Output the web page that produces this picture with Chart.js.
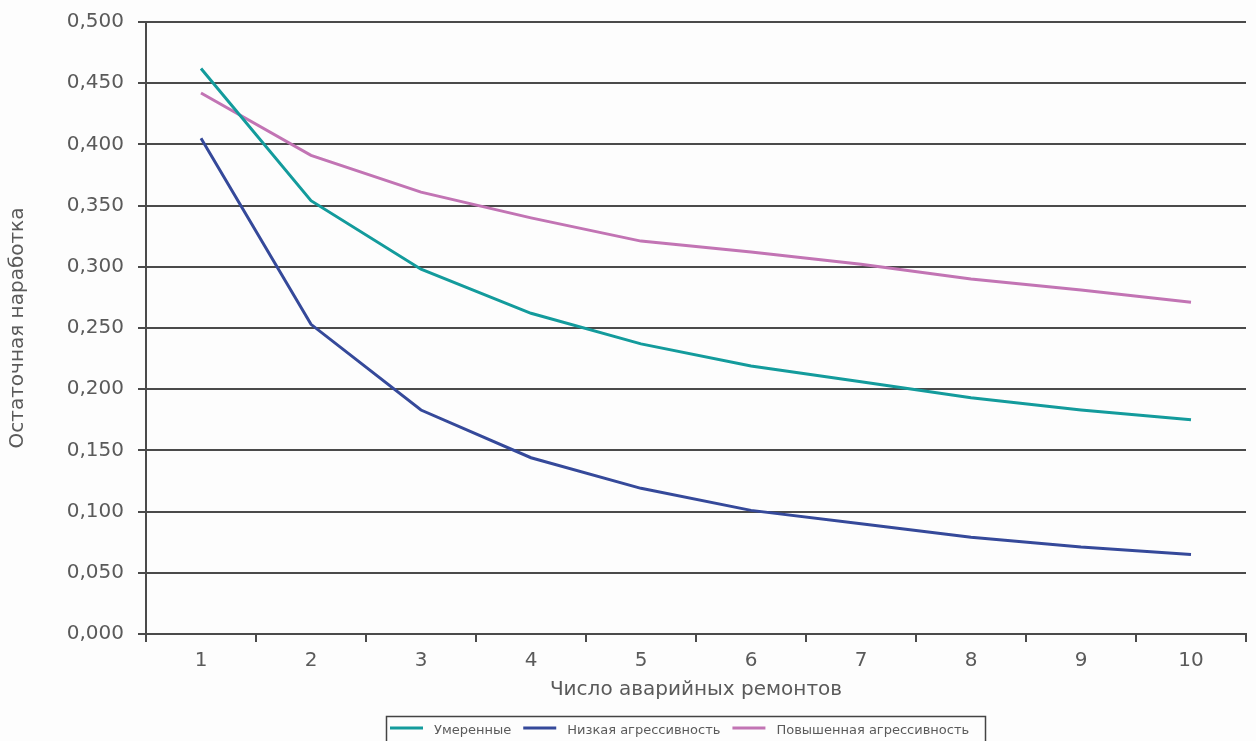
<!DOCTYPE html>
<html lang="ru">
<head>
<meta charset="utf-8">
<title>Остаточная наработка</title>
<script src="https://cdn.jsdelivr.net/npm/chart.js@4/dist/chart.umd.min.js"></script>
<style>
  html, body { margin: 0; padding: 0; background: #fdfdfd; }
  #wrap { width: 1256px; height: 741px; position: relative; }
</style>
</head>
<body>
<div id="wrap"><canvas id="chart" width="1256" height="741"></canvas></div>
<script>
// Number of emergency repairs
const categories = ['1', '2', '3', '4', '5', '6', '7', '8', '9', '10'];

// Residual operating time per aggressiveness level
const moderate = [0.462, 0.354, 0.298, 0.262, 0.237, 0.219, 0.206, 0.193, 0.183, 0.175];
const lowAggr = [0.405, 0.253, 0.183, 0.144, 0.119, 0.101, 0.090, 0.079, 0.071, 0.065];
const highAggr = [0.442, 0.391, 0.361, 0.340, 0.321, 0.312, 0.302, 0.290, 0.281, 0.271];

const seriesNames = ['Умеренные', 'Низкая агрессивность', 'Повышенная агрессивность'];
const yTicks = [0, 0.05, 0.1, 0.15, 0.2, 0.25, 0.3, 0.35, 0.4, 0.45, 0.5];

const FONT = '"DejaVu Sans", sans-serif';
const TEXT = '#5a5a5a';
const GRID = '#4a4a4a';

// Framed legend strip drawn under the x-axis title
const boxedLegend = {
  id: 'boxedLegend',
  afterDraw(chart) {
    const ctx = chart.ctx;
    const left = 386, top = 716, right = 985;
    const sample = 33, gapText = 11, gapItem = 12;
    ctx.save();
    ctx.strokeStyle = '#444';
    ctx.lineWidth = 1.5;
    ctx.strokeRect(left + 0.5, top + 0.5, right - left, 40);
    ctx.font = '13px ' + FONT;
    ctx.textBaseline = 'middle';
    ctx.fillStyle = TEXT;
    let x = left + 4;
    chart.data.datasets.forEach(ds => {
      ctx.strokeStyle = ds.borderColor;
      ctx.lineWidth = 3;
      ctx.beginPath();
      ctx.moveTo(x, 728);
      ctx.lineTo(x + sample, 728);
      ctx.stroke();
      x += sample + gapText;
      ctx.fillText(ds.label, x, 731);
      x += ctx.measureText(ds.label).width + gapItem;
    });
    ctx.restore();
  }
};

const mk = (label, data, color) => ({
  label, data,
  borderColor: color,
  backgroundColor: color,
  borderWidth: 3,
  pointRadius: 0,
  pointHoverRadius: 0,
  tension: 0,
  fill: false
});

new Chart(document.getElementById('chart'), {
  type: 'line',
  data: {
    labels: categories,
    datasets: [
      mk(seriesNames[0], moderate, '#139b9c'),
      mk(seriesNames[1], lowAggr, '#35499a'),
      mk(seriesNames[2], highAggr, '#c274b4')
    ]
  },
  plugins: [boxedLegend],
  options: {
    responsive: false,
    animation: false,
    layout: { padding: { left: 0, right: 10, top: 21, bottom: 25 } },
    plugins: {
      tooltip: { enabled: false },
      legend: { display: false }
    },
    scales: {
      x: {
        type: 'category',
        offset: true,
        afterFit(s) { s.height = 82; },
        grid: {
          offset: true,
          drawOnChartArea: false,
          drawTicks: true,
          tickLength: 8,
          color: GRID,
          lineWidth: 2
        },
        border: { color: GRID, width: 2 },
        ticks: { color: TEXT, padding: 7, font: { family: FONT, size: 20 } },
        title: {
          display: true,
          text: 'Число аварийных ремонтов',
          color: TEXT,
          font: { family: FONT, size: 20 },
          padding: { top: 4, bottom: 14 }
        }
      },
      y: {
        min: 0,
        max: 0.5,
        afterFit(s) { s.width = 146; },
        afterBuildTicks(s) { s.ticks = yTicks.map(v => ({ value: v })); },
        grid: {
          color: GRID,
          lineWidth: 2,
          tickLength: 8
        },
        border: { color: GRID, width: 2 },
        ticks: {
          color: TEXT,
          padding: 14,
          font: { family: FONT, size: 20, lineHeight: 0.8 },
          callback: v => v.toFixed(3).replace('.', ',')
        },
        title: {
          display: true,
          text: 'Остаточная наработка',
          color: TEXT,
          font: { family: FONT, size: 20 },
          padding: { top: 6, bottom: 0 }
        }
      }
    }
  }
});
</script>
</body>
</html>
